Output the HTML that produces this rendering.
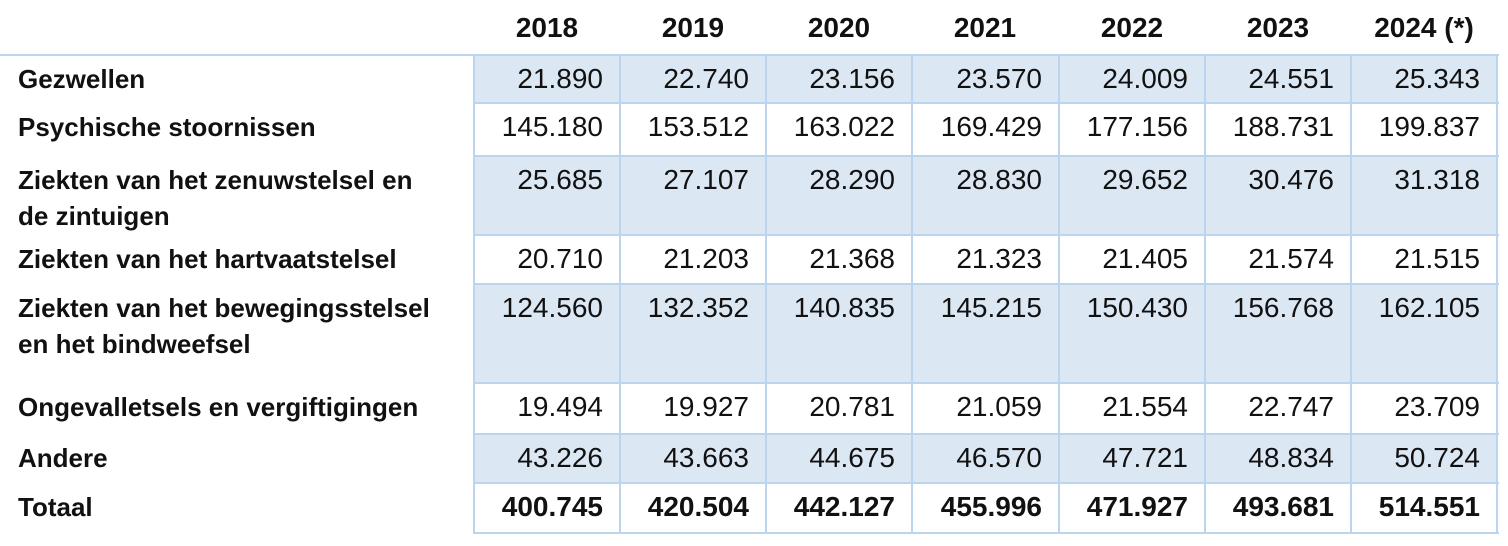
<!DOCTYPE html>
<html><head><meta charset="utf-8"><style>
body{margin:0;width:1508px;height:546px;background:#fff;position:relative;overflow:hidden;font-family:"Liberation Sans",sans-serif;color:#111}
.b{position:absolute;background:#dce7f4}
.h{position:absolute;height:2px;background:#bcd4ee}
.v{position:absolute;width:2px;background:#bcd4ee}
.t{position:absolute;white-space:nowrap}
.n{position:absolute;text-align:right;width:130px;font-size:28px;line-height:30px}
.l{position:absolute;left:18px;font-weight:bold;font-size:26px;line-height:36px}
.y{position:absolute;text-align:center;width:146px;font-weight:bold;font-size:28px;top:12px}
</style></head><body>
<div id="c"></div>
<script>
const cols=[474,620,766,912,1059,1205,1351,1497];
const rows=[55,103,156,235,284,383,434,483,533];
const fill=[1,0,1,0,1,0,1,0];
let h='';
for(let r=0;r<8;r++) if(fill[r]) h+=`<div class="b" style="left:${cols[0]}px;top:${rows[r]}px;width:${cols[7]-cols[0]}px;height:${rows[r+1]-rows[r]}px"></div>`;
h+=`<div class="h" style="left:0;top:54px;width:1499px"></div>`;
for(let r=1;r<9;r++) h+=`<div class="h" style="left:474px;top:${rows[r]-1}px;width:1025px"></div>`;
for(const c of cols) h+=`<div class="v" style="left:${c-1}px;top:54px;height:480px"></div>`;
const yrs=['2018','2019','2020','2021','2022','2023','2024 (*)'];
yrs.forEach((y,i)=>h+=`<div class="y" style="left:${cols[i]}px">${y}</div>`);
const labels=['Gezwellen','Psychische stoornissen','Ziekten van het zenuwstelsel en<br>de zintuigen','Ziekten van het hartvaatstelsel','Ziekten van het bewegingsstelsel<br>en het bindweefsel','Ongevalletsels en vergiftigingen','Andere','Totaal'];
const data=[
['21.890','22.740','23.156','23.570','24.009','24.551','25.343'],
['145.180','153.512','163.022','169.429','177.156','188.731','199.837'],
['25.685','27.107','28.290','28.830','29.652','30.476','31.318'],
['20.710','21.203','21.368','21.323','21.405','21.574','21.515'],
['124.560','132.352','140.835','145.215','150.430','156.768','162.105'],
['19.494','19.927','20.781','21.059','21.554','22.747','23.709'],
['43.226','43.663','44.675','46.570','47.721','48.834','50.724'],
['400.745','420.504','442.127','455.996','471.927','493.681','514.551']];
const ltop=[6,6,6,6,6,6,6,6];
for(let r=0;r<8;r++){
 h+=`<div class="t l" style="top:${rows[r]+ltop[r]}px">${labels[r]}</div>`;
 data[r].forEach((v,i)=>h+=`<div class="t n" style="left:${cols[i+1]-147}px;top:${rows[r]+9}px;${r==7?'font-weight:bold':''}">${v}</div>`);
}
document.getElementById('c').innerHTML=h;
</script>
</body></html>
